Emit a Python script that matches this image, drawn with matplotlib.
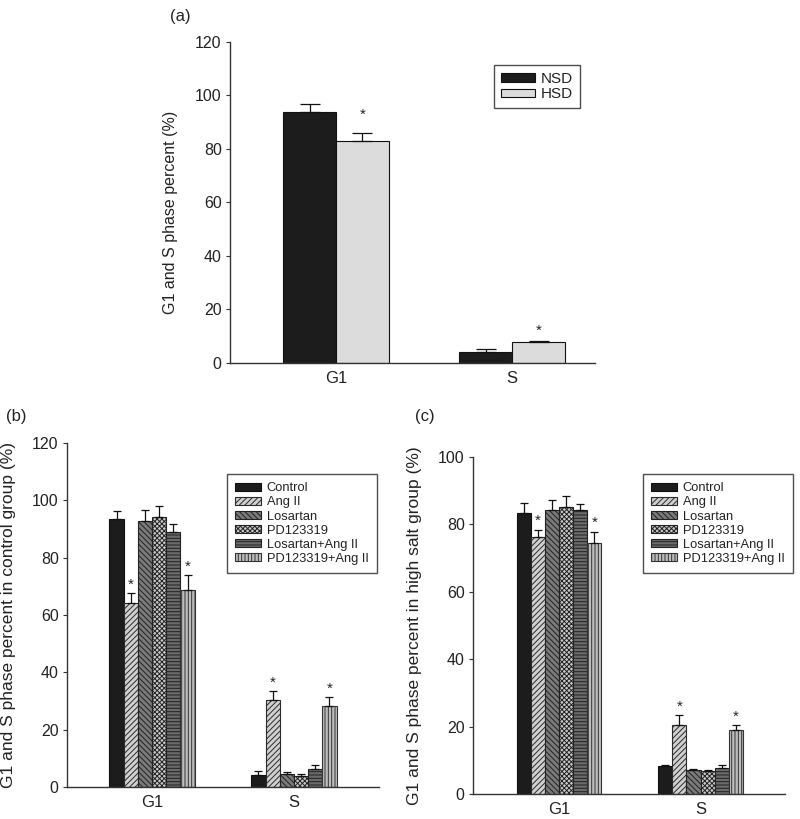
import matplotlib
matplotlib.use("Agg")
import matplotlib.pyplot as plt
import numpy as np

plt.rcParams['font.family'] = ['Liberation Sans', 'DejaVu Sans']
plt.rcParams['hatch.linewidth'] = 0.7

# ---------- data ----------
phases = ["G1", "S"]

# panel (a)
diet_groups = ["NSD", "HSD"]
a_vals = {"NSD": [93.6, 4.1], "HSD": [83.0, 8.0]}
a_errs = {"NSD": [3.2, 1.1], "HSD": [2.8, 0.3]}
a_sig = {"NSD": [False, False], "HSD": [True, True]}

# panels (b) and (c)
treatments = ["Control", "Ang II", "Losartan", "PD123319",
              "Losartan+Ang II", "PD123319+Ang II"]
b_vals = [[93.4, 4.1], [64.2, 30.3], [92.8, 4.4], [94.2, 3.7], [88.9, 6.4], [68.8, 28.3]]
b_errs = [[3.0, 1.4], [3.4, 3.2], [3.7, 0.8], [3.9, 0.8], [2.8, 1.4], [5.0, 3.0]]
b_sig = [[False, False], [True, True], [False, False], [False, False], [False, False], [True, True]]

c_vals = [[83.2, 8.2], [76.1, 20.5], [84.2, 7.2], [85.2, 6.9], [84.2, 7.6], [74.3, 19.0]]
c_errs = [[3.0, 0.3], [2.3, 2.8], [3.0, 0.3], [3.2, 0.3], [1.9, 0.9], [3.5, 1.5]]
c_sig = [[False, False], [True, True], [False, False], [False, False], [False, False], [True, True]]

# ---------- styles ----------
a_styles = {"NSD": dict(facecolor="#1c1c1c", edgecolor="#111111", hatch=None),
            "HSD": dict(facecolor="#dcdcdc", edgecolor="#111111", hatch=None)}
t_styles = [
    dict(facecolor="#1c1c1c", edgecolor="#111111", hatch=None),
    dict(facecolor="#d0d0d0", edgecolor="#2a2a2a", hatch="//////"),
    dict(facecolor="#7a7a7a", edgecolor="#222222", hatch="\\\\\\\\\\\\"),
    dict(facecolor="#c8c8c8", edgecolor="#222222", hatch="xxxxxxx"),
    dict(facecolor="#6a6a6a", edgecolor="#222222", hatch="-----"),
    dict(facecolor="#bdbdbd", edgecolor="#333333", hatch="|||||"),
]

W, H = 800, 819
fig = plt.figure(figsize=(W / 100, H / 100), dpi=100)


def add_ax(left, right, top, bottom):
    return fig.add_axes([left / W, 1 - bottom / H, (right - left) / W, (bottom - top) / H])


def style_ax(ax, ymax, step):
    ax.spines['top'].set_visible(False)
    ax.spines['right'].set_visible(False)
    for s in ('left', 'bottom'):
        ax.spines[s].set_color('#333333')
        ax.spines[s].set_linewidth(1.0)
    ax.set_ylim(0, ymax)
    ax.set_yticks(np.arange(0, ymax + 1, step))
    ax.tick_params(axis='y', direction='out', length=3, width=0.8, color='#333333',
                   labelsize=11.5, pad=3, labelcolor='#222222')
    ax.tick_params(axis='x', length=0, labelsize=12, pad=6, labelcolor='#222222')
    ax.set_xticks(np.arange(len(phases)))
    ax.set_xticklabels(phases)


def draw_bar(ax, x, width, val, err, style, sig, capsize, label=None, star_off=1):
    ax.bar(x, val, width=width, linewidth=0.8, label=label, zorder=2, **style)
    ax.errorbar(x, val, yerr=[[0], [err]], fmt='none', ecolor='#111111',
                elinewidth=0.9, capsize=capsize, capthick=0.9, zorder=3)
    if sig:
        ax.annotate('*', (x, val + err), xytext=(0, star_off), textcoords='offset points',
                    ha='center', va='bottom', fontsize=11, color='#222222')


def style_legend(leg):
    leg.get_frame().set_edgecolor('#222222')
    leg.get_frame().set_linewidth(1.0)
    for t in leg.get_texts():
        t.set_color('#222222')


# ---------- panel (a) ----------
axa = add_ax(230, 595, 41.7, 363)
style_ax(axa, 120, 20)
bw = 0.3
xs = np.arange(len(phases))
for gi, g in enumerate(diet_groups):
    for pi in range(len(phases)):
        draw_bar(axa, xs[pi] + (gi - 0.5) * bw, bw, a_vals[g][pi], a_errs[g][pi],
                 a_styles[g], a_sig[g][pi], 7.5, label=g if pi == 0 else None,
                 star_off=8 if pi == 0 else 2)
axa.set_xlim(-0.602, 1.47)
axa.set_ylabel("G1 and S phase percent (%)", fontsize=11.5, color='#222222')
axa.yaxis.set_label_coords(-0.142, 0.47)
leg = axa.legend(loc='upper right', bbox_to_anchor=(580 / W, 1 - 65 / H),
                 bbox_transform=fig.transFigure, frameon=True, fancybox=False,
                 fontsize=11, handlelength=2.2, handleheight=0.5,
                 borderpad=0.45, labelspacing=0.1, handletextpad=0.4, borderaxespad=0)
style_legend(leg)


def treatment_panel(left, right, top, bottom, vals, errs, sigs, ymax, ylabel, lab_x, xlim,
                    leg_anchor):
    ax = add_ax(left, right, top, bottom)
    style_ax(ax, ymax, 20)
    bw = 0.1
    n = len(treatments)
    for ti, t in enumerate(treatments):
        for pi in range(len(phases)):
            draw_bar(ax, xs[pi] + (ti - (n - 1) / 2) * bw, bw, vals[ti][pi], errs[ti][pi],
                     t_styles[ti], sigs[ti][pi], 3.0, label=t if pi == 0 else None)
    ax.set_xlim(*xlim)
    ax.set_ylabel(ylabel, fontsize=12.5, color='#222222')
    ax.yaxis.set_label_coords(lab_x, 0.5)
    leg = ax.legend(loc='upper right', bbox_to_anchor=leg_anchor,
                    bbox_transform=fig.transFigure,
                    fontsize=9.3, frameon=True, fancybox=False,
                    handlelength=2.0, handleheight=0.55, borderpad=0.65,
                    labelspacing=0.16, handletextpad=0.45, borderaxespad=0)
    style_legend(leg)
    return ax


axb = treatment_panel(67, 379, 443, 787, b_vals, b_errs, b_sig, 120,
                      "G1 and S phase percent in control group (%)", -0.162,
                      (-0.599, 1.599), (377 / W, 1 - 474 / H))

axc = treatment_panel(473, 785, 456.7, 794, c_vals, c_errs, c_sig, 100,
                      "G1 and S phase percent in high salt group (%)", -0.165,
                      (-0.608, 1.597), (793 / W, 1 - 474 / H))

# panel labels
fig.text(180 / W, 1 - 16 / H, "(a)", fontsize=12, ha='center', va='center', color='#222222')
fig.text(16 / W, 1 - 416 / H, "(b)", fontsize=12, ha='center', va='center', color='#222222')
fig.text(425 / W, 1 - 416 / H, "(c)", fontsize=12, ha='center', va='center', color='#222222')

fig.savefig("out.png", dpi=100)
